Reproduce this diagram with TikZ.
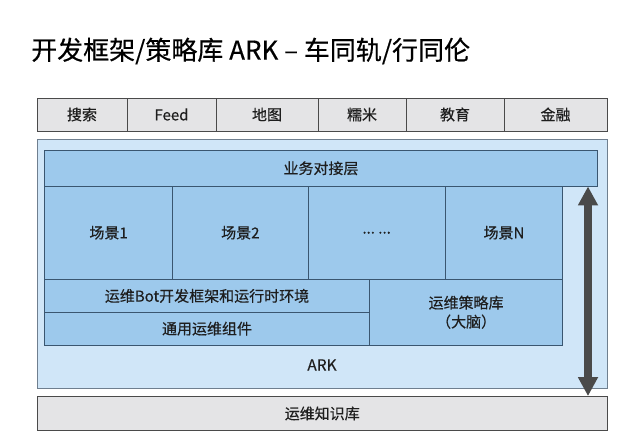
\documentclass[tikz,border=0pt]{standalone}
\usepackage{fontspec}
\setmainfont{Noto Sans CJK SC}[FakeBold=0.4]
\usetikzlibrary{arrows.meta,positioning,calc}
\definecolor{tabfill}{HTML}{E4E4E6}
\definecolor{tabline}{HTML}{4A4A4A}
\definecolor{arkfill}{HTML}{D0E6F8}
\definecolor{arkline}{HTML}{6F7F8F}
\definecolor{blkfill}{HTML}{9DC9EC}
\definecolor{blkline}{HTML}{3A5670}
\definecolor{txt}{HTML}{1E1E1E}
\definecolor{arrowc}{HTML}{4A4A4A}
\tikzset{
  tabbox/.style={draw=tabline, fill=tabfill, line width=0.9pt, text=txt, font=\fontsize{15}{15}\selectfont, inner sep=0pt},
  blkbox/.style={draw=blkline, fill=blkfill, line width=0.9pt, text=txt, font=\fontsize{15}{19}\selectfont, inner sep=0pt, align=center},
  bigarrow/.style={draw=arrowc, line width=8pt, {Triangle[width=19pt,length=19pt]}-{Triangle[width=19pt,length=19pt]}},
}
\newcommand{\boxat}[6]{% style, name, x1, y1, x2, y2 -- text given after
  \node[#1, minimum width=#5pt-#3pt, minimum height=#6pt-#4pt] (#2) at ({(#3+#5)/2}, {(#4+#6)/2})}
\begin{document}
\begin{tikzpicture}[x=1pt,y=-1pt]
\useasboundingbox (0,0) rectangle (640,437);
% title
\node[anchor=west, inner sep=0pt, text=black, font=\fontsize{26}{28}\selectfont] (title) at (31,51) {开发框架/策略库 ARK – 车同轨/行同伦};
% tabs
\boxat{tabbox}{t1}{37}{98}{127}{131} {搜索};
\boxat{tabbox}{t2}{127}{98}{216}{131} {Feed};
\boxat{tabbox}{t3}{216}{98}{318}{131} {地图};
\boxat{tabbox}{t4}{318}{98}{406}{131} {糯米};
\boxat{tabbox}{t5}{406}{98}{504}{131} {教育};
\boxat{tabbox}{t6}{504}{98}{607}{131} {金融};
% ARK container
\node[draw=arkline, fill=arkfill, line width=0.9pt, minimum width=570pt, minimum height=249pt, inner sep=0pt] (ark) at (322,264) {};
\node[text=txt, font=\fontsize{15.5}{15}\selectfont, inner sep=0pt] (arklabel) at (322,365) {ARK};
% business layer
\boxat{blkbox}{biz}{44.5}{150.5}{597.5}{186} {业务对接层};
% scenes
\boxat{blkbox}{s1}{44.5}{186}{172.7}{279.5} {场景1};
\boxat{blkbox}{s2}{172.7}{186}{308}{279.5} {场景2};
\boxat{blkbox}{s3}{308}{186}{445.3}{279.5} {...\ ...};
\boxat{blkbox}{s4}{445.3}{186}{562.7}{279.5} {场景N};
% framework rows
\boxat{blkbox}{bot}{44.5}{279.5}{369.5}{312.3} {运维Bot开发框架和运行时环境};
\boxat{blkbox}{comp}{44.5}{312.3}{369.5}{345} {通用运维组件};
\boxat{blkbox}{brain}{369.5}{279.5}{562.7}{345} {运维策略库\\（大脑）};
% knowledge base
\boxat{tabbox}{kb}{37}{396.5}{607.5}{430.5} {运维知识库};
% arrow
\draw[bigarrow] (biz.south -| 588,0) -- (kb.north -| 588,0);
\end{tikzpicture}
\end{document}
